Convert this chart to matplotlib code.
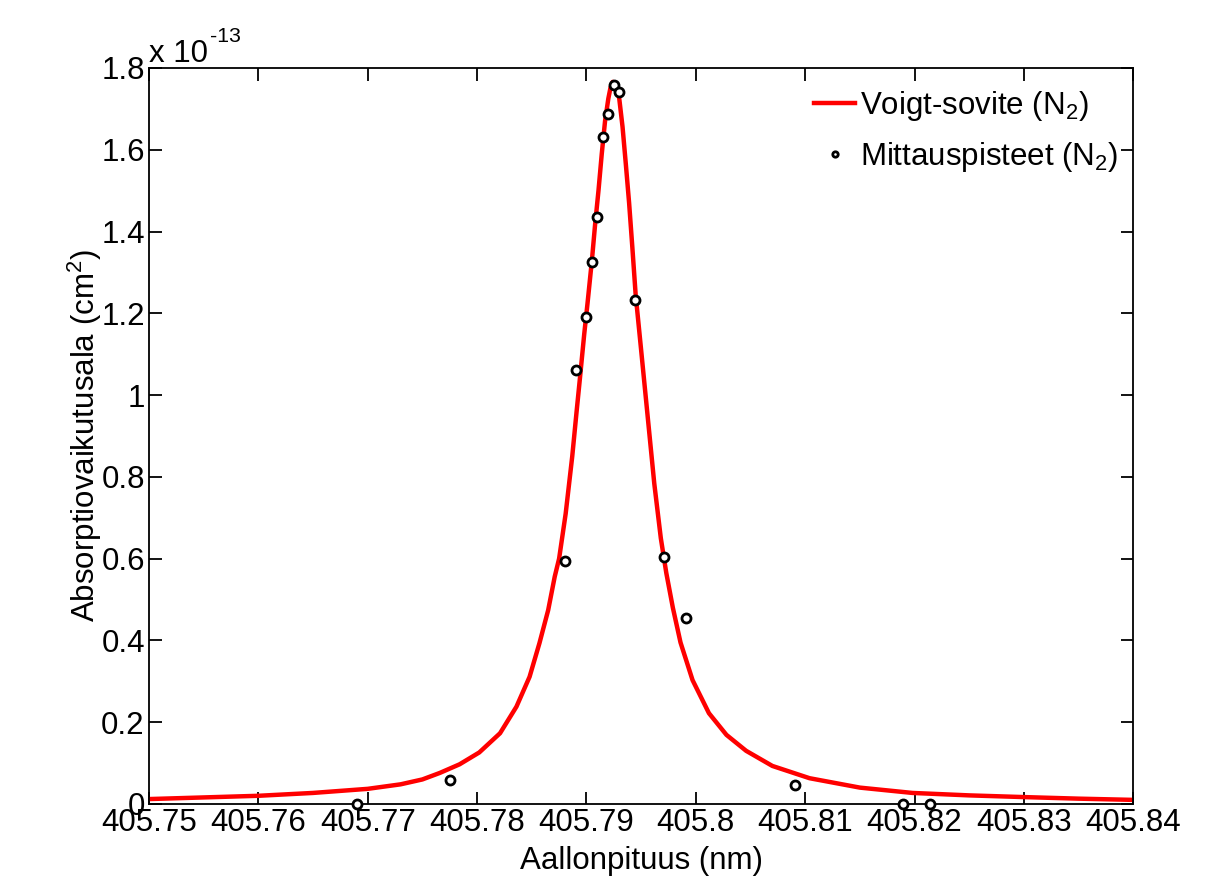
import numpy as np
import matplotlib
matplotlib.use("Agg")
import matplotlib.pyplot as plt

plt.rcParams['font.family'] = ['Liberation Sans', 'DejaVu Sans']
plt.rcParams['mathtext.default'] = 'regular'

# fitted Voigt curve (y in units of 1e-13 cm^2)
fit_x = [405.7500, 405.7550, 405.7600, 405.7650, 405.7700, 405.7730, 405.7750, 405.7766,
         405.7784, 405.7802, 405.7821, 405.7836, 405.7848, 405.7857, 405.7865, 405.7871,
         405.7875, 405.7881, 405.7887, 405.7891, 405.7894, 405.7898, 405.7901, 405.7905,
         405.7908, 405.7911, 405.7914, 405.7917, 405.7920, 405.7922, 405.7924, 405.7926,
         405.7928, 405.7930, 405.7933, 405.7936, 405.7939, 405.7942, 405.7945, 405.7950,
         405.7956, 405.7962, 405.7968, 405.7973, 405.7979, 405.7986, 405.7997, 405.8012,
         405.8028, 405.8046, 405.8070, 405.8104, 405.8150, 405.8198, 405.8250, 405.8298,
         405.8350, 405.8400]
fit_y = [0.012, 0.016, 0.020, 0.027, 0.037, 0.048, 0.060, 0.076,
         0.097, 0.126, 0.173, 0.238, 0.311, 0.393, 0.474, 0.556,
         0.600, 0.710, 0.850, 0.960, 1.040, 1.150, 1.225, 1.330,
         1.420, 1.500, 1.590, 1.670, 1.725, 1.752, 1.766, 1.764,
         1.750, 1.725, 1.656, 1.565, 1.470, 1.360, 1.245, 1.110,
         0.947, 0.784, 0.650, 0.565, 0.480, 0.395, 0.303, 0.222,
         0.169, 0.130, 0.093, 0.063, 0.040, 0.027, 0.021, 0.017,
         0.013, 0.010]

# measured points
meas_x = [405.7690, 405.7775, 405.7880, 405.7890, 405.7900, 405.7905, 405.7910, 405.7915,
          405.7920, 405.7925, 405.7930, 405.7944, 405.7971, 405.7991, 405.8091, 405.8189,
          405.8214]
meas_y = [0.0, 0.059, 0.595, 1.061, 1.192, 1.326, 1.436, 1.632,
          1.687, 1.758, 1.742, 1.233, 0.605, 0.454, 0.046, 0.0,
          0.0]

xticks = [405.75, 405.76, 405.77, 405.78, 405.79, 405.8, 405.81, 405.82, 405.83, 405.84]
xticklabels = ['405.75', '405.76', '405.77', '405.78', '405.79', '405.8', '405.81', '405.82', '405.83', '405.84']
yticks = [0, 0.2, 0.4, 0.6, 0.8, 1, 1.2, 1.4, 1.6, 1.8]
yticklabels = ['0', '0.2', '0.4', '0.6', '0.8', '1', '1.2', '1.4', '1.6', '1.8']

fs = 22.5
fig = plt.figure(figsize=(12.16, 8.83), dpi=100)
ax = fig.add_axes([0.1225, 0.0895, 0.8095, 0.8335])

ax.plot(fit_x, fit_y, color='red', linewidth=3.2, label='Voigt-sovite (N$_2$)')
ax.plot(meas_x, meas_y, linestyle='none', marker='o', markersize=6.5,
        markerfacecolor='white', markeredgecolor='black', markeredgewidth=2,
        label='Mittauspisteet (N$_2$)', clip_on=False, zorder=5)

ax.set_xlim(405.75, 405.84)
ax.set_ylim(0, 1.8)
ax.set_xticks(xticks)
ax.set_xticklabels(xticklabels)
ax.set_yticks(yticks)
ax.set_yticklabels(yticklabels)
ax.tick_params(direction='in', length=9, width=1.3, labelsize=fs,
               top=True, right=True, pad=3)
for s in ax.spines.values():
    s.set_linewidth(1.3)

ax.set_xlabel('Aallonpituus (nm)', fontsize=fs, labelpad=6)
ax.set_ylabel('Absorptiovaikutusala (cm$^2$)', fontsize=fs)
ax.yaxis.set_label_coords(-0.046, 0.5)

ax.text(0.0, 1.008, 'x 10', transform=ax.transAxes, fontsize=fs, ha='left', va='baseline')
ax.text(0.062, 1.035, '-13', transform=ax.transAxes, fontsize=fs * 0.68, ha='left', va='baseline')

leg = ax.legend(loc='upper right', bbox_to_anchor=(1.013, 1.01), frameon=False,
                fontsize=fs, handlelength=1.3, handletextpad=0.15, markerscale=0.6,
                labelspacing=0.55)

fig.savefig('out.png', dpi=100)
